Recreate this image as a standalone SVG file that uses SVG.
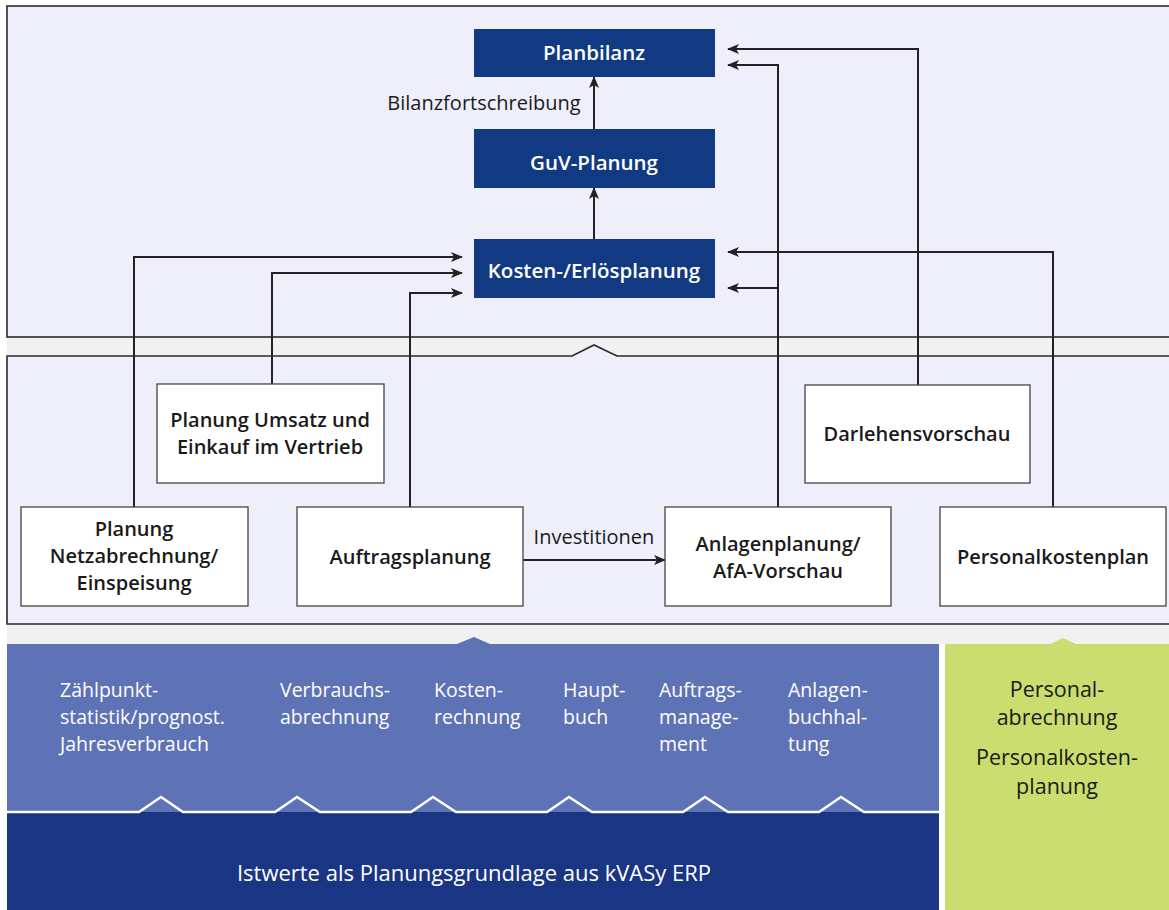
<svg xmlns="http://www.w3.org/2000/svg" width="1169" height="910" viewBox="0 0 1169 910">
<defs>
<marker id="ah" markerWidth="12" markerHeight="10" refX="11" refY="5" orient="auto" markerUnits="userSpaceOnUse">
<path d="M0,0 L12,5 L0,10 L3,5 Z" fill="#222"/>
</marker>
<style>
.panel{fill:#eeeffb;stroke:#2a2a2a;stroke-width:1.6}
.band{fill:#f1f1f1}
.top{fill:#123a82}
.box{fill:#ffffff;stroke:#444;stroke-width:1.3}
.tw{font-family:"Open Sans","DejaVu Sans",sans-serif;font-size:20.5px;font-weight:600;fill:#ffffff;text-anchor:middle}
.tb{font-family:"Open Sans","DejaVu Sans",sans-serif;font-size:20px;font-weight:600;fill:#1a1a1a;text-anchor:middle}
.lbl{font-family:"Open Sans","DejaVu Sans",sans-serif;font-size:20px;fill:#1a1a1a}
.bl{font-family:"Open Sans","DejaVu Sans",sans-serif;font-size:19.5px;fill:#ffffff}
.gl{font-family:"Open Sans","DejaVu Sans",sans-serif;font-size:21.5px;font-weight:500;fill:#1a1a1a;text-anchor:middle}
.c{fill:none;stroke:#222;stroke-width:2;marker-end:url(#ah)}
</style>
</defs>
<rect x="0" y="0" width="1169" height="910" fill="#ffffff"/>
<g id="panels">
<rect class="band" x="7" y="337" width="1162" height="19"/>
<rect class="band" x="7" y="624" width="1162" height="20"/>
<rect class="panel" x="7" y="6" width="1170" height="331"/>
<path class="panel" d="M1177,356 L617,356 L594,345 L572,356 L7,356 L7,624 L1177,624"/>
<path d="M7,644 L457,644 L474,637 L490,644 L939,644 L939,812 L7,812 Z" fill="#5e72b6"/>
<rect x="7" y="812" width="932" height="98" fill="#1a3583"/>
<path d="M7,812 L139,812 L161,797 L183,812 L275,812 L297,797 L320,812 L411,812 L433,797 L456,812 L547,812 L569,797 L592,812 L683,812 L705,797 L728,812 L819,812 L841,797 L864,812 L939,812" fill="none" stroke="#ffffff" stroke-width="2.5"/>
<path d="M945,644 L1050,644 L1063,638 L1076,644 L1169,644 L1169,910 L945,910 Z" fill="#cadd6e"/>
</g>
<g id="connectors">
<path class="c" d="M594,129 L594,77"/>
<path class="c" d="M594,239 L594,188"/>
<path class="c" d="M918,385 L918,49 L728,49"/>
<path class="c" d="M778,507 L778,65 L728,65"/>
<path class="c" d="M778,288 L728,288"/>
<path class="c" d="M1053,507 L1053,252 L728,252"/>
<path class="c" d="M134,507 L134,257 L462,257"/>
<path class="c" d="M272,384 L272,273 L462,273"/>
<path class="c" d="M410,507 L410,293 L462,293"/>
<path class="c" d="M523,560 L665,560"/>
<text class="lbl" x="484" y="110" text-anchor="middle">Bilanzfortschreibung</text>
<text class="lbl" x="594" y="544" text-anchor="middle">Investitionen</text>
</g>
<g id="planbilanz"><rect class="top" x="474" y="29" width="241" height="48"/><text class="tw" x="594" y="60">Planbilanz</text></g>
<g id="guv"><rect class="top" x="474" y="129" width="241" height="59"/><text class="tw" x="594" y="170">GuV-Planung</text></g>
<g id="kosten"><rect class="top" x="474" y="239" width="241" height="59"/><text class="tw" x="594" y="278">Kosten-/Erlösplanung</text></g>
<g id="umsatz"><rect class="box" x="157" y="384" width="227" height="99"/><text class="tb" x="270" y="427">Planung Umsatz und</text><text class="tb" x="270" y="454">Einkauf im Vertrieb</text></g>
<g id="darlehen"><rect class="box" x="805" y="385" width="225" height="98"/><text class="tb" x="917" y="441">Darlehensvorschau</text></g>
<g id="netz"><rect class="box" x="21" y="507" width="227" height="99"/><text class="tb" x="134" y="536">Planung</text><text class="tb" x="134" y="563">Netzabrechnung/</text><text class="tb" x="134" y="590">Einspeisung</text></g>
<g id="auftrag"><rect class="box" x="297" y="507" width="226" height="99"/><text class="tb" x="410" y="564">Auftragsplanung</text></g>
<g id="anlagen"><rect class="box" x="665" y="507" width="226" height="99"/><text class="tb" x="778" y="551">Anlagenplanung/</text><text class="tb" x="778" y="578">AfA-Vorschau</text></g>
<g id="personal"><rect class="box" x="940" y="507" width="226" height="99"/><text class="tb" x="1053" y="564">Personalkostenplan</text></g>
<g id="erp">
<text class="bl" x="60" y="697">Zählpunkt-</text><text class="bl" x="60" y="724">statistik/prognost.</text><text class="bl" x="60" y="751">Jahresverbrauch</text>
<text class="bl" x="280" y="697">Verbrauchs-</text><text class="bl" x="280" y="724">abrechnung</text>
<text class="bl" x="434" y="697">Kosten-</text><text class="bl" x="434" y="724">rechnung</text>
<text class="bl" x="563" y="697">Haupt-</text><text class="bl" x="563" y="724">buch</text>
<text class="bl" x="659" y="697">Auftrags-</text><text class="bl" x="659" y="724">manage-</text><text class="bl" x="659" y="751">ment</text>
<text class="bl" x="788" y="697">Anlagen-</text><text class="bl" x="788" y="724">buchhal-</text><text class="bl" x="788" y="751">tung</text>
<text class="bl" x="474" y="881" text-anchor="middle" style="font-size:22px">Istwerte als Planungsgrundlage aus kVASy ERP</text>
</g>
<g id="hr">
<text class="gl" x="1057" y="697">Personal-</text><text class="gl" x="1057" y="725">abrechnung</text><text class="gl" x="1057" y="765">Personalkosten-</text><text class="gl" x="1057" y="794">planung</text>
</g>
</svg>
